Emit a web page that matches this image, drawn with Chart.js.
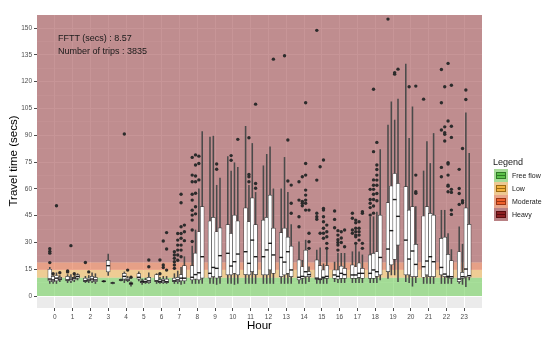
<!DOCTYPE html>
<html>
<head>
<meta charset="utf-8">
<script src="https://cdn.jsdelivr.net/npm/chart.js@4.4.0/dist/chart.umd.min.js"></script>
<style>
  body { margin: 0; background: #fff; font-family: "Liberation Sans", Arial, sans-serif; }
  #wrap { position: relative; width: 550px; height: 338px; }
  canvas { position: absolute; left: 0; top: 0; }
  .txt { position: absolute; white-space: nowrap; color: #1a1a1a; }
  .key { position: absolute; left: 494px; width: 14px; height: 13px; }
  .key .bx { position: absolute; left: 2px; top: 3px; width: 8px; height: 5px; border: 1px solid; }
  .key .md { position: absolute; left: 0; right: 0; top: 2px; height: 1px; }
  .lab { position: absolute; left: 512px; font-size: 7px; line-height: 7px; color: #1a1a1a; }
  #ytitle { position: absolute; left: 4px; top: 155px; width: 18px; height: 12px; }
  #ytitle span { position: absolute; left: 50%; top: 50%; white-space: nowrap; font-size: 11.5px; line-height: 12px;
                 color: #000; transform: translate(-50%, -50%) rotate(-90deg); }
</style>
</head>
<body>
<div id="wrap">
  <canvas id="myChart" width="550" height="338"></canvas>
  <div class="txt" style="left:58px;top:34px;font-size:9px;line-height:9px">FFTT (secs) : 8.57</div>
  <div class="txt" style="left:58px;top:47px;font-size:9px;line-height:9px">Number of trips : 3835</div>
  <div class="txt" style="left:247px;top:320px;font-size:11.5px;line-height:11.5px;color:#000">Hour</div>
  <div id="ytitle"><span>Travel time (secs)</span></div>
  <div id="legend"></div>
</div>
<script>
// hours on the x axis
const hours = [0,1,2,3,4,5,6,7,8,9,10,11,12,13,14,15,16,17,18,19,20,21,22,23];

// four 15-minute groups per hour: [low whisker, q1, median, q3, high whisker]
const boxStats = [
  [[7,8.5,9.5,15,16],[7,8,9,11,11.5],[7,8.5,10,11.5,13],[8,9,9.5,10.5,11.5]],
  [[7.5,8.5,9,11,12],[7.5,8.5,9.5,10.5,12],[8,9,10,10.5,11.5],[9,10,11,12,12.5]],
  [[7.5,8,8.5,10,11],[7.5,8.5,9,10,11.5],[7.5,8.5,9.5,11,13],[7,8,9,10.5,12.5]],
  [[7.8,8,8.2,8.5,8.8],[11.5,13.5,17,20,23.5],[6.8,7,7.3,7.5,7.8],null],
  [[8.5,8.8,9,9.2,9.5],[7.5,9.5,11,12.7,13.5],[8,8.5,9,10,11],[5.5,6.5,7,7.5,8]],
  [[8.5,9.5,10.5,12.5,13.5],[6.5,7.5,8,8.5,9.5],[7,7.5,8,9,10],[7,7.5,8.5,10.5,13]],
  [[7,8,8.5,12,12.5],[7,7.5,8,9,10.5],[7,7.5,8.5,9.5,11],[7,7.5,8,9.5,11]],
  [[7,8,8.5,10,12.5],[7,8,9,10.5,14],[6.5,8.5,10,12,16],[7,8.5,10,17,22]],
  [[7,9,10.5,17,28],[7,9.5,12,24,37],[7,9,13,36,60],[7,10,22,50,92]],
  [[7,10,12.7,42,89],[7,10.8,16,44,89.5],[6.5,10,15.5,36,62],[7,10.8,22.6,38.2,66]],
  [[7,11.8,23.9,40,78],[7,11.8,16.8,35,70],[6.5,12.7,19.2,45.3,74.6],[7,11.8,23.5,42,72]],
  [[7,12,24.8,49.4,95],[7,11.8,18.3,41.6,62],[7,13.6,31.3,55,85.4],[7,12,22,40,58]],
  [[7,11.8,22,42.5,72.9],[7,11.8,25.8,44,79.3],[7,14.6,29.5,56.5,83.5],[7,12.7,23,38,60]],
  [[7,10.8,21.6,35.5,60],[7,11.8,19,38,77.6],[7,12.7,24.8,33,58],[7,10.8,14.6,28,40]],
  [[7,9,10.5,20.2,30.4],[7,9.9,11,16.4,20],[7,10.8,13.6,25.7,31.3],[8,10.8,12,13.6,16.4]],
  [[7,9.3,10,20.2,25.7],[7,9,9.5,17,27],[7,9.9,10.5,14.6,18],[7,9.9,11,17,25.7]],
  [[8,9.9,11.8,14.6,19],[7.5,9.5,11,14.6,23.9],[7.5,9.9,12.7,16.7,23.9],[7.5,9.9,12,15.5,23.9]],
  [[7.5,9.9,11.8,17.4,24.8],[7.5,9.9,11.8,16.4,28.5],[7.5,10.4,12.7,18.6,24.8],[7.5,9.9,12.7,15.5,23]],
  [[7.5,9.9,12.7,23,44],[7.5,9.9,14.6,23.9,44.4],[7.5,11,13.6,24.8,47],[9,11.8,21.6,45.3,82]],
  [[9.9,13.6,26.3,52.3,95.7],[11.8,17.4,36.6,61.6,108.7],[11.8,20.5,54,68.6,98.5],[8,28.5,44.6,63,110.2]],
  [[8,11.8,31.3,61.2,129.8],[7.5,11.8,20.7,48.1,88.2],[5.5,10.8,25.2,50,105.9],[7.5,10.8,17.7,28.9,50]],
  [[7,10.5,16.4,44.8,70],[7,11.8,19.6,50,86.4],[7,10.8,22,46.3,74.2],[7,10.8,19.2,45.3,91]],
  [[7,11.8,16,32.3,48],[7,10.8,12.3,33,48],[7,10.4,11,23.3,35],[7,9.9,10.8,19.8,26]],
  [[7.1,8,9.5,24.8,38.8],[6.5,9.9,10.8,13.3,29],[5.2,10.8,15.1,49.4,102.6],[9,10.5,11.4,40.1,79.9]]
];

// outlying trips per hour and group
const outliers = [
  [[26.5,25,24,18.7],[12.5],[50.5],[13]],
  [[14,13.5],[28.2],[12.5],[]],
  [[18.8],[13.5],[],[]],
  [[],[],[],[]],
  [[],[90.7],[14.5],[10.5]],
  [[],[],[],[20.2,16.4]],
  [[],[20.2,12.5],[30.8,17.4,16],[35.5,26.3,14.5]],
  [[24.8,23,21.1,19.2,17.4,15.5],[35,31.3,28.5,25.7,23,20],[57,52.2,38.8,35,32.3,28.5,25.7,22],[39.7,36,31]],
  [[77.6,67.7,64,57,53.7,48,45.3,42.5,37,30.5],[79,73.3,67.2,64,57.5,50,46],[78.3,74.2,65],[]],
  [[],[],[73.9,71],[]],
  [[],[78.6,76],[],[87.7]],
  [[],[88.6,68,66.8,64],[],[107.4,63,60.3]],
  [[],[],[],[132.6]],
  [[],[134.5],[87.3,64.4],[62.1,51.9,46.3]],
  [[64,53.7,44.4,38.8],[66.8,53,51.9,50.5],[108.2,74.2,67.7,59.3,56.5,53.7,51.9,48.1],[48.1,35.1,30.4,26.7]],
  [[148.7,64.9,46.3,44.4,43],[72.4,35.1],[76.1,49,48.1,44.4,41.6,37.9,35.1,32.3],[39.7,36,33.2,29.5,26.7]],
  [[47.6,42.9,38.2],[36.6,34.1,31.5,30,28.5,25.7],[36,32.5,30],[37,27.6]],
  [[46.3,43.5,37,35.1],[42.5,41,37.9,36,34.1,33.2,29.5],[41.6,37.9,36,34.1,31.3],[47.2,46.3,29.5,26.7]],
  [[59.7,54,51.9,49.5,45.3],[115.7,80.8,65,62,59.7,57,54,50.4,46.4],[86,73.3,70.8,67.7,64.9,62,57.4,53.3],[]],
  [[155],[],[125,124.2],[127]],
  [[],[117.1],[],[117.5,67.7,58.4,57.5]],
  [[110.2],[],[],[]],
  [[126.8,108.2,92.9,72,66.8],[117.1,94.7,91.4,90.5,86.8],[130.2,98,74.6,73.9,67.7,62.1,61.5,58.4],[118,95,88.8,59.7,58,48.1,45.7]],
  [[70.9,60.2,57.4,51.3],[82.6,53.3,52.2],[115.3,110],[]]
];

// traffic level bands (secs)
const bandNames = ['Free flow', 'Low', 'Moderate', 'Heavy'];
const bandLower = [0, 10.28, 14.57, 18.85];
const bandUpper = [10.28, 14.57, 18.85, Infinity];
const bandColors = ['rgba(115,208,93,0.6)', 'rgba(240,183,90,0.6)', 'rgba(227,110,68,0.6)', 'rgba(158,72,76,0.58)'];
const keyFill = ['#5cc24a', '#f4b13d', '#f0602c', '#8e1f22'];
const keyBg = ['#a6dc98', '#eec993', '#e8a58a', '#b98184'];
const keyEdge = ['#2f7a25', '#9a6a12', '#9b3412', '#5a0c0e'];

const yTicks = [0, 15, 30, 45, 60, 75, 90, 105, 120, 135, 150];

const whiskers = [], boxes = [], medians = [], points = [];
hours.forEach((h, i) => {
  const present = [0,1,2,3].filter(g => boxStats[i][g]);
  const n = present.length;
  present.forEach((g, k) => {
    const x = h + (k - (n - 1) / 2) * (0.75 / n);
    const [lo, q1, md, q3, hi] = boxStats[i][g];
    whiskers.push({x: x, y: [lo, hi]});
    boxes.push({x: x, y: [q1, q3]});
    medians.push({x: x, y: md});
    outliers[i][g].forEach(v => points.push({x: x, y: v}));
  });
});

const panel = {
  id: 'panel',
  beforeDraw(chart) {
    const {ctx, chartArea: a} = chart;
    ctx.save();
    ctx.fillStyle = '#EBEBEB';
    ctx.fillRect(a.left, a.top, a.width, a.height);
    ctx.restore();
  },
  beforeDatasetsDraw(chart) {
    const {ctx, chartArea: a, scales: {y}} = chart;
    ctx.save();
    for (let i = 0; i < bandNames.length; i++) {
      const top = isFinite(bandUpper[i]) ? y.getPixelForValue(bandUpper[i]) : a.top;
      const bottom = y.getPixelForValue(bandLower[i]);
      ctx.fillStyle = bandColors[i];
      ctx.fillRect(a.left, top, a.width, bottom - top);
    }
    ctx.restore();
  }
};

const isMajor = v => yTicks.some(t => Math.abs(t - v) < 1e-6);

new Chart(document.getElementById('myChart'), {
  type: 'bar',
  data: {
    datasets: [
      { type: 'scatter', data: points, pointRadius: 1.7, pointHoverRadius: 1.7,
        backgroundColor: '#2b2b2b', borderWidth: 0, order: 0 },
      { type: 'scatter', data: medians, pointStyle: 'line', pointRadius: 1.9, pointHoverRadius: 1.9,
        borderColor: '#1a1a1a', borderWidth: 1.4, order: 1 },
      { type: 'bar', data: boxes, barThickness: 3.9, backgroundColor: '#ffffff',
        borderColor: '#3a3a3a', borderWidth: 0.7, borderSkipped: false, grouped: false, order: 2 },
      { type: 'bar', data: whiskers, barThickness: 0.9, backgroundColor: '#4a4a4a',
        borderWidth: 0, grouped: false, order: 3 }
    ]
  },
  options: {
    responsive: false,
    devicePixelRatio: 1,
    animation: false,
    events: [],
    layout: { padding: { left: 0, top: 15, right: 68, bottom: 0 } },
    plugins: { legend: { display: false }, tooltip: { enabled: false } },
    scales: {
      x: {
        type: 'linear', min: -1, max: 24, offset: false,
        afterFit: s => { s.height = 30; },
        border: { display: false },
        grid: {
          offset: false, lineWidth: 1, tickLength: 3,
          color: c => (c.tick && c.tick.value >= 0 && c.tick.value <= 23) ? '#ffffff' : 'rgba(0,0,0,0)',
          tickColor: c => (c.tick && c.tick.value >= 0 && c.tick.value <= 23) ? '#4d4d4d' : 'rgba(0,0,0,0)'
        },
        ticks: {
          stepSize: 1, autoSkip: false, maxRotation: 0, padding: 2, includeBounds: false,
          color: '#4d4d4d', font: { family: 'Liberation Sans', size: 6.5 },
          callback: v => (v >= 0 && v <= 23) ? String(v) : ''
        }
      },
      y: {
        type: 'linear', min: -6.7, max: 157.3,
        afterFit: s => { s.width = 37; },
        border: { display: false },
        grid: {
          tickLength: 3,
          color: '#ffffff',
          lineWidth: c => (c.tick && isMajor(c.tick.value)) ? 1 : 0.5,
          tickColor: c => (c.tick && isMajor(c.tick.value)) ? '#4d4d4d' : 'rgba(0,0,0,0)'
        },
        ticks: {
          stepSize: 7.5, autoSkip: false, padding: 2, includeBounds: false,
          color: '#4d4d4d', font: { family: 'Liberation Sans', size: 6.5 },
          callback: v => isMajor(v) ? String(Math.round(v)) : ''
        }
      }
    }
  },
  plugins: [panel]
});

// legend
const legend = document.getElementById('legend');
let html = '<div class="txt" style="left:493px;top:158px;font-size:9px;line-height:9px">Legend</div>';
bandNames.forEach((name, i) => {
  const cy = 175 + i * 13;
  html += '<div class="key" style="top:' + (cy - 6.5) + 'px;background:' + keyBg[i] + '">' +
          '<div class="bx" style="background:' + keyFill[i] + ';border-color:' + keyEdge[i] + '">' +
          '<div class="md" style="background:' + keyEdge[i] + '"></div></div></div>' +
          '<div class="lab" style="top:' + (cy - 3.4) + 'px">' + name + '</div>';
});
legend.innerHTML = html;
</script>
</body>
</html>
